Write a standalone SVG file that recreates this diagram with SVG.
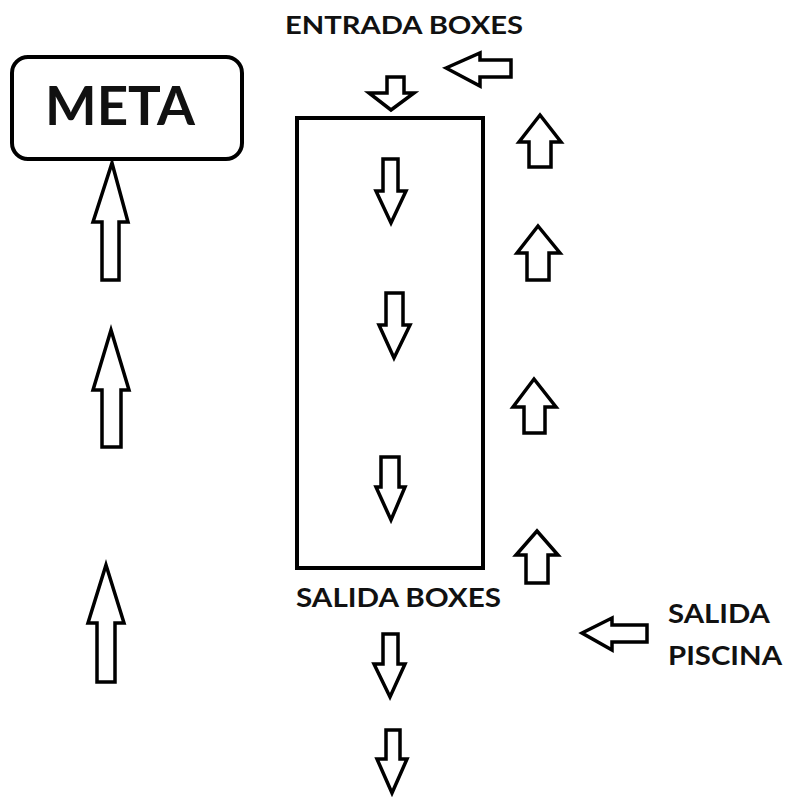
<svg xmlns="http://www.w3.org/2000/svg" width="788" height="797" viewBox="0 0 788 797">
<style>
.arr{fill:#fff;stroke:#000;stroke-width:3.5;stroke-linejoin:miter}
.box{fill:#fff;stroke:#000;stroke-width:4}
.lbl{font-family:Lato,"Open Sans","Liberation Sans",sans-serif;font-weight:700;fill:#111}
</style>
<rect width="788" height="797" fill="#fff"/>
<g id="meta">
<rect class="box" x="12" y="57" width="230" height="102" rx="16"/>
<text class="lbl" x="45" y="125" font-size="53" textLength="150" lengthAdjust="spacingAndGlyphs">META</text>
</g>
<g id="boxes">
<rect class="box" x="297" y="118" width="186" height="450"/>
</g>
<g id="label-entrada">
<text class="lbl" x="285" y="34" font-size="25" textLength="238" lengthAdjust="spacingAndGlyphs">ENTRADA BOXES</text>
</g>
<g id="label-salida-boxes">
<text class="lbl" x="296" y="607" font-size="27" textLength="205" lengthAdjust="spacingAndGlyphs">SALIDA BOXES</text>
</g>
<g id="label-salida-piscina">
<text class="lbl" x="668" y="623" font-size="27" textLength="102" lengthAdjust="spacingAndGlyphs">SALIDA</text>
<text class="lbl" x="668" y="665" font-size="27" textLength="114" lengthAdjust="spacingAndGlyphs">PISCINA</text>
</g>
<g id="connectors">
<!-- left column up arrows -->
<polygon class="arr" points="112,163 128,222 119,222 119,280 102,280 102,222 93,222"/>
<polygon class="arr" points="111,330 129,390 121,390 121,447 102,447 102,390 93,390"/>
<polygon class="arr" points="106,565 124,623 115,623 115,682 97,682 97,623 88,623"/>
<!-- right column up arrows -->
<polygon class="arr" points="540,115 561,142 551,142 551,167 529,167 529,142 519,142"/>
<polygon class="arr" points="538,226 560,253 549,253 549,280 527,280 527,253 517,253"/>
<polygon class="arr" points="534,379 556,407 545,407 545,433 524,433 524,407 513,407"/>
<polygon class="arr" points="537,531 558,555 548,555 548,583 526,583 526,555 516,555"/>
<!-- left-pointing arrows -->
<polygon class="arr" points="446,68 480,53 480,60 511,60 511,77 480,77 480,86"/>
<polygon class="arr" points="582,633 612,618 612,625 647,625 647,642 612,642 612,650"/>
<!-- down arrows -->
<polygon class="arr" points="387,77 404,77 404,93 414,93 391,110 369,93 387,93"/>
<polygon class="arr" points="383,159 398,159 398,191 406,191 391,223 376,191 383,191"/>
<polygon class="arr" points="386,293 403,293 403,325 410,325 394,358 379,325 386,325"/>
<polygon class="arr" points="381,457 399,457 399,487 405,487 391,520 376,487 381,487"/>
<polygon class="arr" points="383,634 398,634 398,664 405,664 390,697 374,664 383,664"/>
<polygon class="arr" points="386,730 400,730 400,759 407,759 392,793 377,759 386,759"/>
</g>
</svg>
